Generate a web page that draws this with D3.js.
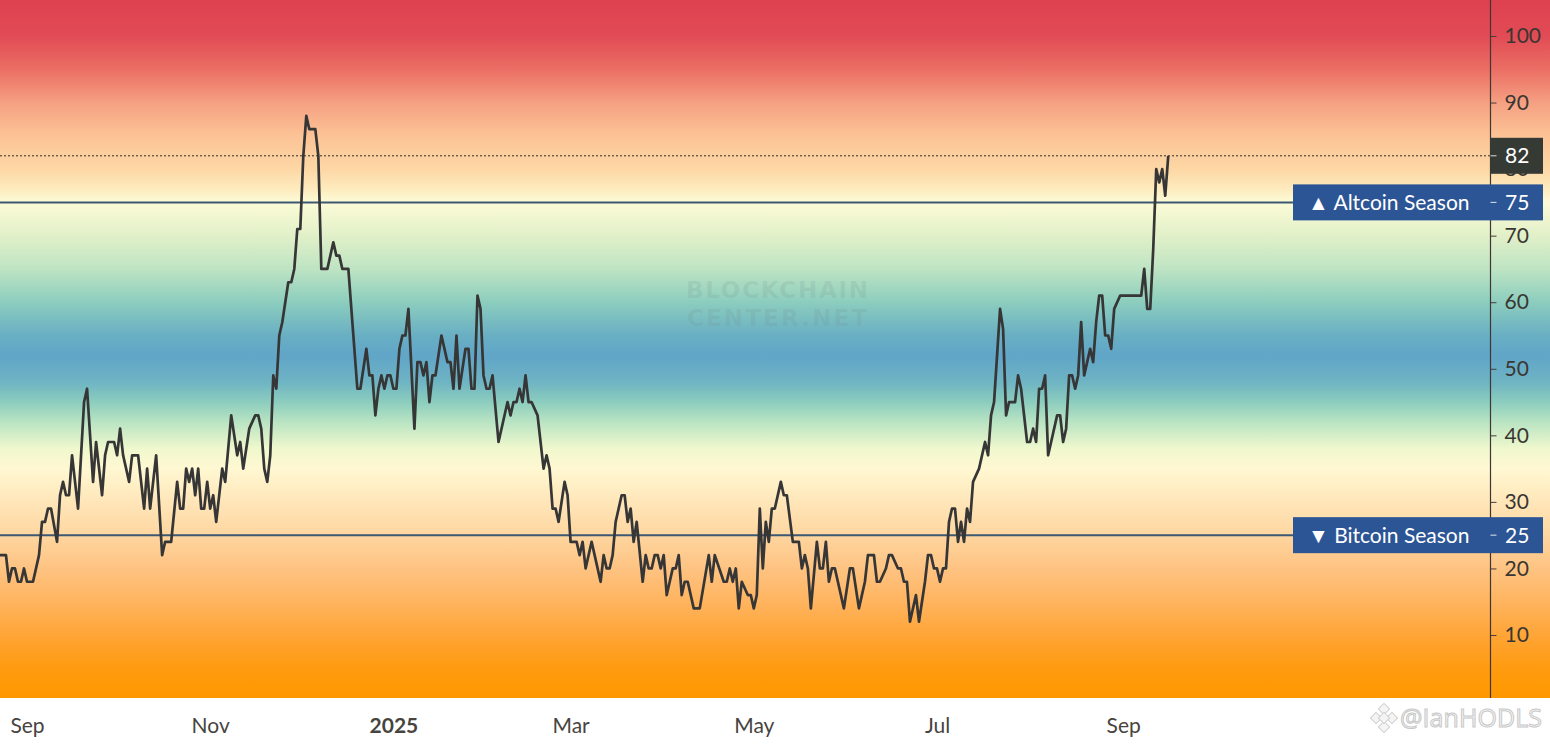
<!DOCTYPE html>
<html>
<head>
<meta charset="utf-8">
<script src="https://cdn.jsdelivr.net/npm/d3@7"></script>
<style>
  html, body { margin: 0; padding: 0; background: #fff; overflow: hidden; }
  svg { display: block; font-family: Lato, "Open Sans", sans-serif; }
</style>
</head>
<body>
<script>
// Altcoin Season Index, daily values
var dates = [
  "2024-08-22","2024-08-23","2024-08-25","2024-08-26","2024-08-27","2024-08-28","2024-08-29","2024-08-30","2024-08-31",
  "2024-09-01","2024-09-03","2024-09-05","2024-09-06","2024-09-07","2024-09-08","2024-09-09","2024-09-11","2024-09-12",
  "2024-09-13","2024-09-14","2024-09-15","2024-09-16","2024-09-18","2024-09-20","2024-09-21","2024-09-23","2024-09-24",
  "2024-09-26","2024-09-27","2024-09-28","2024-09-30","2024-10-01","2024-10-02","2024-10-03","2024-10-05","2024-10-06",
  "2024-10-08","2024-10-10","2024-10-11","2024-10-12","2024-10-14","2024-10-16","2024-10-17","2024-10-19","2024-10-21",
  "2024-10-22","2024-10-23","2024-10-24","2024-10-25","2024-10-26","2024-10-27","2024-10-28","2024-10-29","2024-10-30",
  "2024-10-31","2024-11-01","2024-11-02","2024-11-03","2024-11-05","2024-11-06","2024-11-08","2024-11-10","2024-11-11",
  "2024-11-12","2024-11-14","2024-11-16","2024-11-17","2024-11-18","2024-11-19","2024-11-20","2024-11-21","2024-11-22",
  "2024-11-23","2024-11-24","2024-11-25","2024-11-27","2024-11-28","2024-11-29","2024-11-30","2024-12-01","2024-12-02",
  "2024-12-03","2024-12-04","2024-12-06","2024-12-07","2024-12-08","2024-12-10","2024-12-12","2024-12-13","2024-12-14",
  "2024-12-15","2024-12-17","2024-12-20","2024-12-21","2024-12-23","2024-12-24","2024-12-25","2024-12-26","2024-12-27",
  "2024-12-28","2024-12-29","2024-12-30","2024-12-31","2025-01-01","2025-01-02","2025-01-03","2025-01-04","2025-01-05",
  "2025-01-06","2025-01-08","2025-01-09","2025-01-10","2025-01-11","2025-01-12","2025-01-13","2025-01-14","2025-01-15",
  "2025-01-17","2025-01-19","2025-01-20","2025-01-21","2025-01-22","2025-01-23","2025-01-25","2025-01-26","2025-01-27",
  "2025-01-28","2025-01-29","2025-01-30","2025-01-31","2025-02-01","2025-02-02","2025-02-03","2025-02-05","2025-02-08",
  "2025-02-09","2025-02-10","2025-02-11","2025-02-12","2025-02-13","2025-02-14","2025-02-15","2025-02-16","2025-02-18",
  "2025-02-20","2025-02-21","2025-02-22","2025-02-23","2025-02-24","2025-02-25","2025-02-27","2025-02-28","2025-03-01",
  "2025-03-03","2025-03-04","2025-03-05","2025-03-06","2025-03-08","2025-03-09","2025-03-11","2025-03-12","2025-03-13",
  "2025-03-14","2025-03-15","2025-03-16","2025-03-18","2025-03-19","2025-03-20","2025-03-21","2025-03-22","2025-03-23",
  "2025-03-25","2025-03-26","2025-03-27","2025-03-28","2025-03-29","2025-03-30","2025-03-31","2025-04-01","2025-04-02",
  "2025-04-04","2025-04-05","2025-04-06","2025-04-07","2025-04-08","2025-04-09","2025-04-11","2025-04-13","2025-04-16",
  "2025-04-17","2025-04-18","2025-04-21","2025-04-22","2025-04-23","2025-04-24","2025-04-25","2025-04-26","2025-04-27",
  "2025-04-29","2025-04-30","2025-05-01","2025-05-02","2025-05-03","2025-05-04","2025-05-05","2025-05-06","2025-05-07",
  "2025-05-08","2025-05-10","2025-05-11","2025-05-12","2025-05-14","2025-05-16","2025-05-17","2025-05-18","2025-05-19",
  "2025-05-20","2025-05-22","2025-05-23","2025-05-24","2025-05-25","2025-05-26","2025-05-27","2025-05-28","2025-05-31",
  "2025-06-02","2025-06-03","2025-06-05","2025-06-07","2025-06-08","2025-06-10","2025-06-11","2025-06-12","2025-06-14",
  "2025-06-15","2025-06-16","2025-06-18","2025-06-19","2025-06-20","2025-06-21","2025-06-22","2025-06-24","2025-06-25",
  "2025-06-27","2025-06-28","2025-06-29","2025-06-30","2025-07-01","2025-07-02","2025-07-03","2025-07-04","2025-07-05",
  "2025-07-06","2025-07-07","2025-07-08","2025-07-09","2025-07-10","2025-07-11","2025-07-12","2025-07-13","2025-07-15",
  "2025-07-17","2025-07-18","2025-07-19","2025-07-20","2025-07-22","2025-07-23","2025-07-24","2025-07-25","2025-07-27",
  "2025-07-28","2025-07-29","2025-07-31","2025-08-01","2025-08-02","2025-08-03","2025-08-04","2025-08-05","2025-08-06",
  "2025-08-07","2025-08-08","2025-08-10","2025-08-11","2025-08-12","2025-08-13","2025-08-14","2025-08-15","2025-08-16",
  "2025-08-17","2025-08-18","2025-08-19","2025-08-20","2025-08-21","2025-08-22","2025-08-23","2025-08-24","2025-08-25",
  "2025-08-26","2025-08-27","2025-08-28","2025-08-29","2025-08-31","2025-09-07","2025-09-08","2025-09-09","2025-09-10",
  "2025-09-11","2025-09-12","2025-09-13","2025-09-14","2025-09-15","2025-09-16"
];
var values = [
  22,22,22,18,20,20,18,18,20,
  18,18,22,27,27,29,29,24,31,
  33,31,31,37,29,45,47,33,39,
  31,37,39,39,37,41,37,33,37,
  37,29,35,29,37,22,24,24,33,
  29,29,35,33,35,31,35,29,29,
  33,29,31,27,35,33,43,37,39,
  35,41,43,43,41,35,33,37,49,
  47,55,57,63,63,65,71,71,82,
  88,86,86,82,65,65,69,67,67,
  65,65,47,47,53,49,49,43,47,
  49,47,49,49,47,47,53,55,55,
  59,41,51,51,49,51,45,49,49,
  55,51,51,47,55,47,53,53,47,
  47,61,59,49,47,47,49,39,45,
  43,45,45,47,45,49,45,45,43,
  35,37,35,29,29,27,33,31,24,
  24,22,24,20,24,22,18,22,20,
  20,22,27,31,31,27,29,24,27,
  18,22,20,20,22,22,20,22,16,
  20,20,22,16,18,18,14,14,22,
  18,22,18,18,20,18,20,14,18,
  16,16,14,16,29,20,27,24,29,
  29,33,31,31,24,24,20,22,20,
  14,24,20,20,24,18,20,20,14,
  20,20,14,18,22,22,18,18,20,
  22,22,20,20,18,18,12,16,12,
  18,22,22,20,20,18,20,20,27,
  29,29,24,27,24,29,27,33,35,
  39,37,43,45,59,56,43,45,45,
  49,47,39,39,41,39,47,47,49,
  37,39,43,43,39,41,49,49,47,
  49,57,49,51,53,51,57,61,61,
  55,55,53,59,61,61,65,59,59,
  68,80,78,80,76,82
];

var yTicks = [10, 20, 30, 40, 50, 60, 70, 80, 90, 100];
var monthTicks = ["2024-09-01", "2024-11-01", "2025-01-01", "2025-03-01", "2025-05-01", "2025-07-01", "2025-09-01"];
var monthLabels = ["Sep", "Nov", "2025", "Mar", "May", "Jul", "Sep"];
var altcoinLevel = 75;
var bitcoinLevel = 25;

// background colour by index value
var bandValues = [105, 100, 95, 90, 85, 80, 77, 75, 70, 65, 60, 55, 52, 48, 45, 42, 38, 35, 30, 25, 20, 15, 10, 5, 0];
var bandColors = ["#de4250", "#e14b55", "#eb6e64", "#f5a082", "#fcc396", "#fdd7a5", "#feebbe", "#fcfcd7",
                  "#e1f0c8", "#bee4c3", "#8ccdbe", "#69afc3", "#61a5c8", "#6eb4c3", "#8ccdbe", "#b9e4c3",
                  "#f0f8cd", "#fff8d2", "#ffe6b9", "#fed6a0", "#fec382", "#ffb45f", "#ffa537", "#ff9b0f", "#ff9800"];

var W = 1550, H = 744;
var plotBottom = 698;
var axisX = 1490.5;

var parse = d3.utcParse("%Y-%m-%d");
var series = dates.map(function(d, i) { return { date: parse(d), value: values[i] }; });
var lastValue = values[values.length - 1];

var xScale = d3.scaleUtc()
  .domain([parse("2024-09-01"), parse("2025-07-01")])
  .range([27, 937]);
var yScale = d3.scaleLinear().domain([10, 100]).range([635, 36]);

var svg = d3.select("body").append("svg")
  .attr("width", W)
  .attr("height", H);

var defs = svg.append("defs");
var grad = defs.append("linearGradient")
  .attr("id", "bg")
  .attr("gradientUnits", "userSpaceOnUse")
  .attr("x1", 0).attr("y1", 0)
  .attr("x2", 0).attr("y2", plotBottom);
bandValues.forEach(function(v, i) {
  grad.append("stop")
    .attr("offset", Math.max(0, Math.min(1, yScale(v) / plotBottom)))
    .attr("stop-color", bandColors[i]);
});

// background
svg.append("rect").attr("width", W).attr("height", H).attr("fill", "#fff");
svg.append("rect")
  .attr("x", 0).attr("y", 0)
  .attr("width", W).attr("height", plotBottom)
  .attr("fill", "url(#bg)");

// watermark
var wm = svg.append("g")
  .attr("fill", "#6f8a8a")
  .attr("fill-opacity", 0.16)
  .attr("font-family", "'DejaVu Sans', sans-serif")
  .attr("font-weight", "bold")
  .attr("font-size", 23)
  .attr("text-anchor", "middle");
wm.append("text").attr("x", 777).attr("y", 298).attr("textLength", 182).text("BLOCKCHAIN");
wm.append("text").attr("x", 777).attr("y", 326).attr("textLength", 180).text("CENTER.NET");

// season lines
svg.selectAll("line.season")
  .data([altcoinLevel, bitcoinLevel])
  .enter().append("line")
  .attr("class", "season")
  .attr("x1", 0).attr("x2", axisX)
  .attr("y1", function(d) { return yScale(d); })
  .attr("y2", function(d) { return yScale(d); })
  .attr("stroke", "#3c5873")
  .attr("stroke-width", 2);

// last value dotted line
svg.append("line")
  .attr("x1", 0).attr("x2", axisX)
  .attr("y1", yScale(lastValue)).attr("y2", yScale(lastValue))
  .attr("stroke", "#2d2d2d")
  .attr("stroke-width", 1)
  .attr("stroke-dasharray", "2,2");

// index line
var line = d3.line()
  .x(function(d) { return xScale(d.date); })
  .y(function(d) { return yScale(d.value); });

svg.append("path")
  .datum(series)
  .attr("d", line)
  .attr("fill", "none")
  .attr("stroke", "#363636")
  .attr("stroke-width", 2.7)
  .attr("stroke-linejoin", "round");

// right axis
var yAxis = d3.axisRight(yScale).tickValues(yTicks).tickSize(6).tickPadding(8);
var gy = svg.append("g")
  .attr("transform", "translate(" + axisX + ",0)")
  .call(yAxis);
gy.select(".domain").remove();
gy.selectAll(".tick line").attr("stroke", "#4a3b3b");
gy.selectAll(".tick text")
  .attr("font-size", 21)
  .attr("fill", "#3a3632")
  .attr("font-family", "Lato, 'Open Sans', sans-serif");
svg.append("line")
  .attr("x1", axisX).attr("x2", axisX)
  .attr("y1", 0).attr("y2", plotBottom)
  .attr("stroke", "#3e3535")
  .attr("stroke-width", 1.2);

// season labels
var seasons = [
  { level: altcoinLevel, text: "\u25B2 Altcoin Season" },
  { level: bitcoinLevel, text: "\u25BC Bitcoin Season" }
];
var sg = svg.selectAll("g.seasonLabel")
  .data(seasons)
  .enter().append("g")
  .attr("class", "seasonLabel")
  .attr("transform", function(d) { return "translate(0," + yScale(d.level) + ")"; });
sg.append("rect")
  .attr("x", 1293).attr("y", -18)
  .attr("width", 250).attr("height", 36)
  .attr("fill", "#2c5595");
sg.append("text")
  .attr("x", 1308).attr("y", 0)
  .attr("dy", "0.35em")
  .attr("font-size", 21)
  .attr("fill", "#fff")
  .text(function(d) { return d.text; });
sg.append("line")
  .attr("x1", axisX).attr("x2", axisX + 6)
  .attr("stroke", "#dfe6f0").attr("stroke-width", 1);
sg.append("text")
  .attr("x", 1505).attr("y", 0)
  .attr("dy", "0.35em")
  .attr("font-size", 21)
  .attr("fill", "#fff")
  .text(function(d) { return d.level; });

// last value label
var lv = svg.append("g").attr("transform", "translate(0," + yScale(lastValue) + ")");
lv.append("rect")
  .attr("x", axisX - 0.5).attr("y", -18)
  .attr("width", 53).attr("height", 36)
  .attr("fill", "#363a35");
lv.append("line")
  .attr("x1", axisX).attr("x2", axisX + 6)
  .attr("stroke", "#ddd").attr("stroke-width", 1);
lv.append("text")
  .attr("x", 1505).attr("y", 0)
  .attr("dy", "0.35em")
  .attr("font-size", 21)
  .attr("fill", "#fff")
  .text(lastValue);

// bottom axis
var xAxis = d3.axisBottom(xScale)
  .tickValues(monthTicks.map(parse))
  .tickSize(0)
  .tickPadding(0)
  .tickFormat(function(d, i) { return monthLabels[i]; });
var gx = svg.append("g")
  .attr("transform", "translate(0," + 718 + ")")
  .call(xAxis);
gx.select(".domain").remove();
gx.selectAll(".tick text")
  .attr("font-size", 21)
  .attr("fill", "#474440")
  .attr("font-family", "Lato, 'Open Sans', sans-serif")
  .attr("font-weight", function(d, i) { return monthLabels[i] === "2025" ? "bold" : "normal"; });

// author watermark
var aw = svg.append("g").attr("transform", "translate(1384,718)");
[[0, -9], [-8, 0], [8, 0], [0, 9], [0, 0]].forEach(function(p) {
  aw.append("rect")
    .attr("x", p[0] - 4).attr("y", p[1] - 4)
    .attr("width", 8).attr("height", 8)
    .attr("transform", "rotate(45," + p[0] + "," + p[1] + ")")
    .attr("fill", "#f4f4f4")
    .attr("stroke", "#cfcfcf")
    .attr("stroke-width", 1);
});
svg.append("text")
  .attr("x", 1400).attr("y", 727)
  .attr("font-size", 25)
  .attr("font-family", "'Open Sans', sans-serif")
  .attr("textLength", 142)
  .attr("fill", "#f6f6f6")
  .attr("stroke", "#c8c8c8")
  .attr("stroke-width", 1)
  .text("@IanHODLS");
</script>
</body>
</html>
